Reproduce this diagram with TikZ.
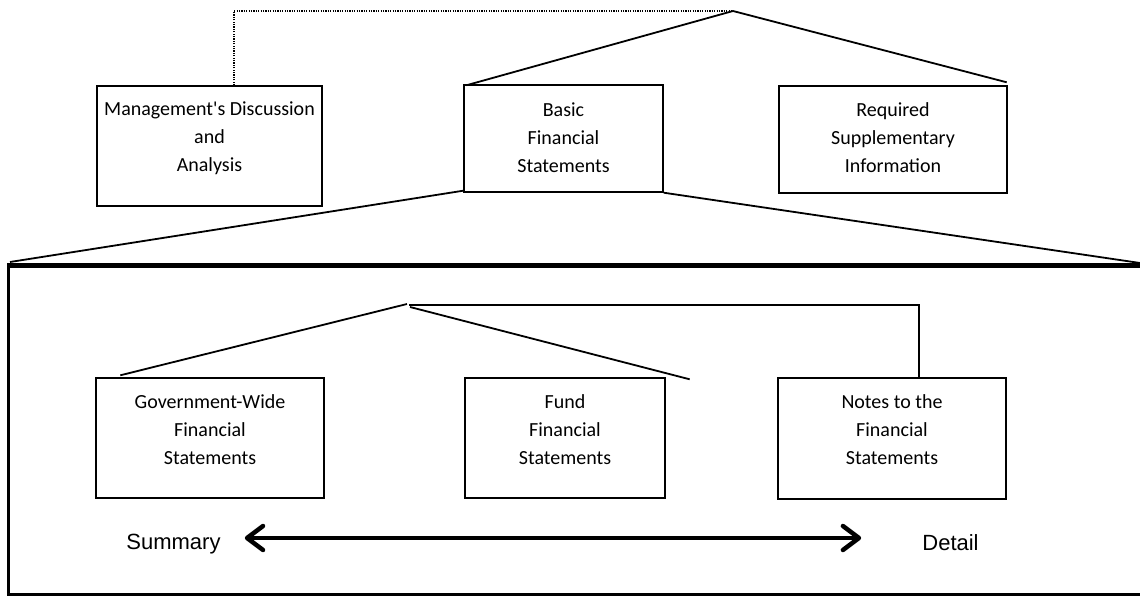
\documentclass[tikz,border=0pt]{standalone}
\usepackage{fontspec}
\newfontfamily\carlito{Carlito}
\newfontfamily\lsans{Liberation Sans}
\usetikzlibrary{arrows.meta}
\begin{document}
\begin{tikzpicture}[x=1pt,y=-1pt,
  box/.style={draw,line width=1.4pt,rectangle,inner sep=0pt},
  lbl/.style={font=\carlito\fontsize{20}{28}\selectfont,align=center,inner sep=0pt},
  conn/.style={line width=1.8pt},
  side/.style={font=\lsans\fontsize{22}{26}\selectfont,inner sep=0pt,anchor=base}]
\useasboundingbox (0,0) rectangle (1140,596);
\clip (0,0) rectangle (1140,596);
% top level boxes
\node[box,minimum width=225pt,minimum height=120pt] (mda) at (209.5,146) {};
\node[box,minimum width=199pt,minimum height=107pt] (basic) at (563.5,138.5) {};
\node[box,minimum width=228pt,minimum height=107pt] (rsi) at (893,139.5) {};
\node[lbl] (mdaT) at (209.5,138) {Management's Discussion\\and\\Analysis};
\node[lbl] (basicT) at (563.5,138) {Basic\\Financial\\Statements};
\node[lbl] (rsiT) at (893,138) {Required\\Supplementary\\Information};
\coordinate (peak) at (733,11);
\draw[line width=1.2pt,dash pattern=on 1.2pt off 1.2pt] ([xshift=24.5pt]mda.north) -- (234,11) -- (peak);
\draw[conn] (peak) -- ([xshift=3pt,yshift=-1pt]basic.north west);
\draw[conn] (peak) -- ([xshift=-1pt,yshift=3pt]rsi.north east);
% frame
\node[draw,line width=3pt,rectangle,inner sep=0pt,minimum width=1134pt,minimum height=327.5pt] (frame) at (575.5,430.25) {};
\draw[line width=4pt] (frame.north west) -- (frame.north east);
\coordinate (fl) at (10,262);
\coordinate (fr) at (1140,263);
\draw[conn] ([yshift=2pt]basic.south west) -- (fl);
\draw[conn] (basic.south east) -- (fr);
% second level boxes
\node[box,minimum width=228pt,minimum height=120pt] (gov) at (210,438) {};
\node[box,minimum width=200pt,minimum height=120pt] (fund) at (565,438) {};
\node[box,minimum width=228pt,minimum height=121pt] (notes) at (892,438.5) {};
\node[lbl] (govT) at (210,430) {Government-Wide\\Financial\\Statements};
\node[lbl] (fundT) at (565,430) {Fund\\Financial\\Statements};
\node[lbl] (notesT) at (892,430) {Notes to the\\Financial\\Statements};
\coordinate (ipeak) at (407,304);
\draw[conn] (ipeak) -- ([xshift=25pt,yshift=2pt]gov.north west);
\draw[conn] ([xshift=3pt,yshift=-3pt]ipeak) -- ([xshift=24pt,yshift=-2pt]fund.north east);
\draw[conn] ([xshift=2pt,yshift=-1pt]ipeak) -| ([xshift=27pt]notes.north);
% summary/detail
\node[side] (sum) at (173.5,549) {Summary};
\node[side] (det) at (950.5,550) {Detail};
\draw[line width=4.5pt,{Straight Barb[length=16pt,width=24pt,line cap=round,round]}-{Straight Barb[length=16pt,width=24pt,line cap=round,round]}]
  ([xshift=24pt,yshift=11pt]sum.base east) -- ([xshift=-61pt,yshift=12pt]det.base west);
\end{tikzpicture}
\end{document}
